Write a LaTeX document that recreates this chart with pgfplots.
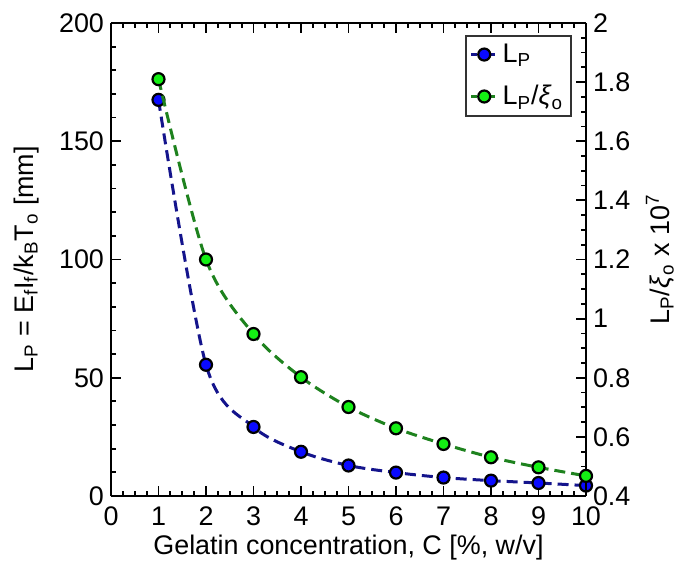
\documentclass[border=0pt]{standalone}
\usepackage{pgfplots}
\pgfplotsset{compat=1.18}
\usepackage{fontspec}
\setmainfont{Liberation Sans}
\definecolor{lineblue}{RGB}{20,20,140}
\definecolor{linegreen}{RGB}{30,130,30}
\definecolor{markblue}{RGB}{10,10,255}
\definecolor{markgreen}{RGB}{20,240,20}
\pgfplotsset{
  common/.style={
    scale only axis, width=237.5bp, height=236.5bp,
    xmin=0, xmax=10,
    /pgf/number format/assume math mode=true,
    /pgf/number format/fixed,
    tick label style={font=\fontsize{13.5}{16}\selectfont},
    label style={font=\fontsize{13.5}{16}\selectfont},
    tick align=inside,
    major tick length=5bp, minor tick length=2.5bp,
    axis line style={line width=1bp},
    tick style={line width=0.9bp, black},
  },
  ser/.style={line width=1.5bp, dash pattern=on 5.5bp off 3bp, smooth, tension=0.5, mark=*, mark size=3bp},
  mblue/.style={mark options={solid, draw=black, line width=1.1bp, fill=markblue}},
  mgreen/.style={mark options={solid, draw=black, line width=1.1bp, fill=markgreen}},
}
\begin{document}
\begin{tikzpicture}
\useasboundingbox (-55.5bp,-35.5bp) rectangle (285bp,248bp);
\begin{axis}[common,
  axis y line*=left,
  ymin=0, ymax=200,
  xtick={0,1,...,10}, minor x tick num=3,
  xticklabel style={yshift=-2bp},
  ytick={0,50,100,150,200}, minor y tick num=4,
  xlabel={Gelatin concentration, C [\%, w/v]},
  xlabel style={at={(axis description cs:0.5,-0.108)}, anchor=center},
  ylabel={L\textsubscript{P} = E\textsubscript{f}I\textsubscript{f}/k\textsubscript{B}T\textsubscript{o} [mm]},
  ylabel style={at={(axis description cs:-0.178,0.5)}, anchor=center},
]
\addplot[ser, color=lineblue, mblue] coordinates {
(1,167.5) (2,55.5) (3,29.2) (4,18.7) (5,12.9) (6,9.9) (7,7.8) (8,6.5) (9,5.5) (10,4.4)};
\end{axis}
\begin{axis}[common,
  axis y line*=right, axis x line=none,
  ymin=0.4, ymax=2,
  ytick={0.4,0.6,...,2.01}, minor y tick num=3,
  yticklabel style={/pgf/number format/precision=1},
  ylabel={L\textsubscript{P}/\textit{ξ}\textsubscript{o} x 10\textsuperscript{7}},
  ylabel style={at={(axis description cs:1.156,0.5)}, anchor=center},
  legend style={at={(rel axis cs:1,1)}, anchor=north east, xshift=-7bp, yshift=-6bp,
    draw=black!80, line width=0.8bp, font=\fontsize{13.5}{16}\selectfont,
    inner sep=2bp, row sep=6bp},
  legend cell align=left,
  legend image code/.code={\draw[mark repeat=2,mark phase=2,#1,dash pattern=on 3bp off 1.5bp] plot coordinates {(0bp,0bp) (6.5bp,0bp) (13bp,0bp)};},
]
\addlegendimage{ser, color=lineblue, mblue}
\addlegendentry{L\textsubscript{P}}
\addplot[ser, color=linegreen, mgreen] coordinates {
(1,1.81) (2,1.20) (3,0.948) (4,0.802) (5,0.701) (6,0.629) (7,0.576) (8,0.531) (9,0.497) (10,0.468)};
\addlegendentry{L\textsubscript{P}/\textit{ξ}\textsubscript{o}}
\end{axis}
\end{tikzpicture}
\end{document}
